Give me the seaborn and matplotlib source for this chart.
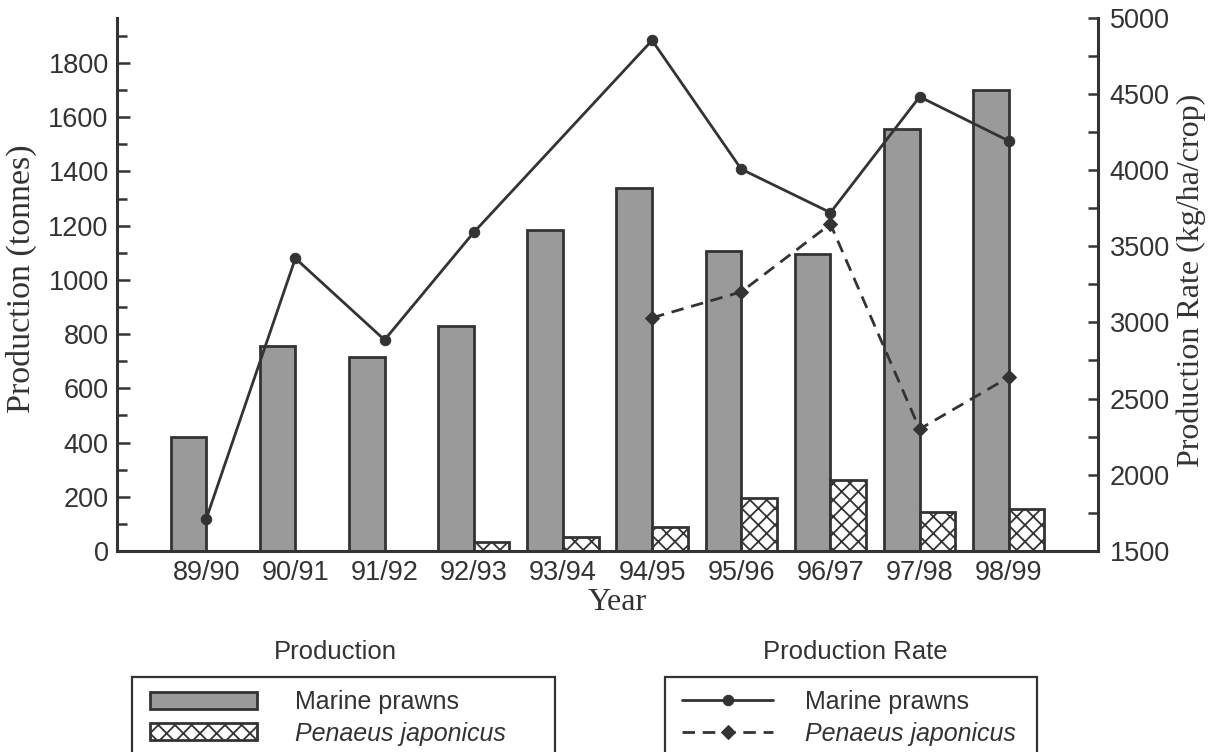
import numpy as np
import pandas as pd
import matplotlib
matplotlib.use("Agg")
import matplotlib.pyplot as plt
import seaborn as sns
from matplotlib.patches import Rectangle
from matplotlib.ticker import MultipleLocator

# ---------------- data ----------------
years = ['89/90', '90/91', '91/92', '92/93', '93/94', '94/95', '95/96', '96/97', '97/98', '98/99']
species = ['Marine prawns', 'Penaeus japonicus']
marine_prod = [420, 755, 715, 830, 1185, 1340, 1105, 1095, 1555, 1700]
japonicus_prod = [np.nan, np.nan, np.nan, 32, 50, 90, 195, 262, 145, 155]
marine_rate = [1710, 3420, 2885, 3590, np.nan, 4850, 4005, 3720, 4480, 4190]
japonicus_rate = [np.nan, np.nan, np.nan, np.nan, np.nan, 3030, 3200, 3645, 2300, 2640]

prod_df = pd.DataFrame({
    'Year': years * 2,
    'Production': marine_prod + japonicus_prod,
    'Species': [species[0]] * len(years) + [species[1]] * len(years),
})
rate_df = pd.DataFrame({
    'pos': list(range(len(years))) * 2,
    'Rate': marine_rate + japonicus_rate,
    'Species': [species[0]] * len(years) + [species[1]] * len(years),
}).dropna()

# ---------------- style ----------------
sns.set_style('white')
plt.rcParams['font.family'] = ['Liberation Sans', 'DejaVu Sans']
plt.rcParams['hatch.color'] = '#333333'
plt.rcParams['hatch.linewidth'] = 1.3
dark = '#333333'

fig = plt.figure(figsize=(12.08, 7.52), dpi=100)
W, H = 1208, 752
ax = fig.add_axes([117 / W, 1 - 551 / H, (1098 - 117) / W, (551 - 17.5) / H])

sns.barplot(data=prod_df, x='Year', y='Production', hue='Species', order=years,
            hue_order=species, palette=['#9a9a9a', 'white'], edgecolor=dark,
            linewidth=2, errorbar=None, width=0.8, saturation=1, ax=ax, legend=False)
for p in ax.containers[1]:
    p.set_hatch('xx')

ax2 = ax.twinx()
sns.lineplot(data=rate_df, x='pos', y='Rate', hue='Species', style='Species',
             hue_order=species, style_order=species, palette=[dark, dark],
             dashes={species[0]: '', species[1]: (4.5, 2.8)},
             markers={species[0]: 'o', species[1]: 'D'},
             markersize=7.5, markeredgecolor=dark, linewidth=2.0,
             errorbar=None, sort=True, ax=ax2, legend=False)

ax.set_xlim(-1, 10)
ax2.set_xlim(-1, 10)
ax.set_ylim(0, 1968)
ax2.set_ylim(1500, 5000)

ax.yaxis.set_major_locator(MultipleLocator(200))
ax.yaxis.set_minor_locator(MultipleLocator(100))
ax2.yaxis.set_major_locator(MultipleLocator(500))
ax2.yaxis.set_minor_locator(MultipleLocator(250))

tfs = 19.5
ax.tick_params(axis='y', which='major', direction='in', length=9.5, width=1.8,
               color=dark, labelsize=tfs, labelcolor=dark, pad=6.0, left=True)
ax.tick_params(axis='y', which='minor', direction='in', length=7, width=1.8,
               color=dark, left=True)
ax.tick_params(axis='x', length=0, labelsize=tfs, labelcolor=dark, pad=6.5)
ax2.tick_params(axis='y', which='major', direction='in', length=7.5, width=1.8,
                color=dark, labelsize=tfs, labelcolor=dark, pad=8.5, right=True)
ax2.tick_params(axis='y', which='minor', direction='in', length=7.5, width=1.8,
                color=dark, right=True)

for s in ['top', 'right']:
    ax.spines[s].set_visible(False)
for s in ['top', 'left', 'bottom']:
    ax2.spines[s].set_visible(False)
for s in ['left', 'bottom']:
    ax.spines[s].set_linewidth(2.2)
    ax.spines[s].set_color(dark)
ax2.spines['right'].set_linewidth(2.2)
ax2.spines['right'].set_color(dark)

serif = ['Liberation Serif', 'DejaVu Serif']
ax.set_xlabel('Year', fontfamily=serif, fontsize=23, color=dark)
ax.set_ylabel('Production (tonnes)', fontfamily=serif, fontsize=24.5, color=dark)
ax2.set_ylabel('Production Rate (kg/ha/crop)', fontfamily=serif, fontsize=23, color=dark)
axw, axh = 1098 - 117, 551 - 17.5
ax.xaxis.set_label_coords((617 - 117) / axw, (551 - 588) / axh)
ax.yaxis.set_label_coords((37 - 117) / axw, 0.5 + (284 - 278) / axh)
ax2.yaxis.set_label_coords((1176 - 117) / axw, 0.5 + (284 - 280) / axh)

# ---------------- legends ----------------
fs = 18
fpx = fs * 100 / 72
bar_handles = [ax.containers[0], ax.containers[1]]
leg1 = fig.legend(bar_handles, species, loc='upper left',
                  bbox_to_anchor=(150 / W, 1 - 690 / H), frameon=False,
                  fontsize=fs, borderpad=0, borderaxespad=0,
                  handlelength=107 / fpx, handleheight=17 / fpx,
                  handletextpad=(295 - 257) / fpx, labelspacing=0.3)
line_handles = [ax2.lines[0], ax2.lines[1]]
leg2 = fig.legend(line_handles, species, loc='upper left',
                  bbox_to_anchor=(682 / W, 1 - 690 / H), frameon=False,
                  fontsize=fs, borderpad=0, borderaxespad=0, numpoints=1,
                  handlelength=91 / fpx, handletextpad=(805 - 773) / fpx,
                  labelspacing=0.3)
for leg in (leg1, leg2):
    for t in leg.get_texts():
        t.set_color(dark)
    leg.get_texts()[1].set_fontstyle('italic')

fig.add_artist(Rectangle((132 / W, -0.05), (555 - 132) / W, 0.05 + (H - 677) / H,
                         transform=fig.transFigure, fill=False, lw=1.6, ec=dark))
fig.add_artist(Rectangle((665 / W, -0.05), (1037 - 665) / W, 0.05 + (H - 677) / H,
                         transform=fig.transFigure, fill=False, lw=1.6, ec=dark))
fig.text(335 / W, 1 - 652 / H, 'Production', ha='center', va='center',
         fontsize=18.5, color=dark)
fig.text(855 / W, 1 - 652 / H, 'Production Rate', ha='center', va='center',
         fontsize=18.5, color=dark)

fig.savefig('out.png', dpi=100)
